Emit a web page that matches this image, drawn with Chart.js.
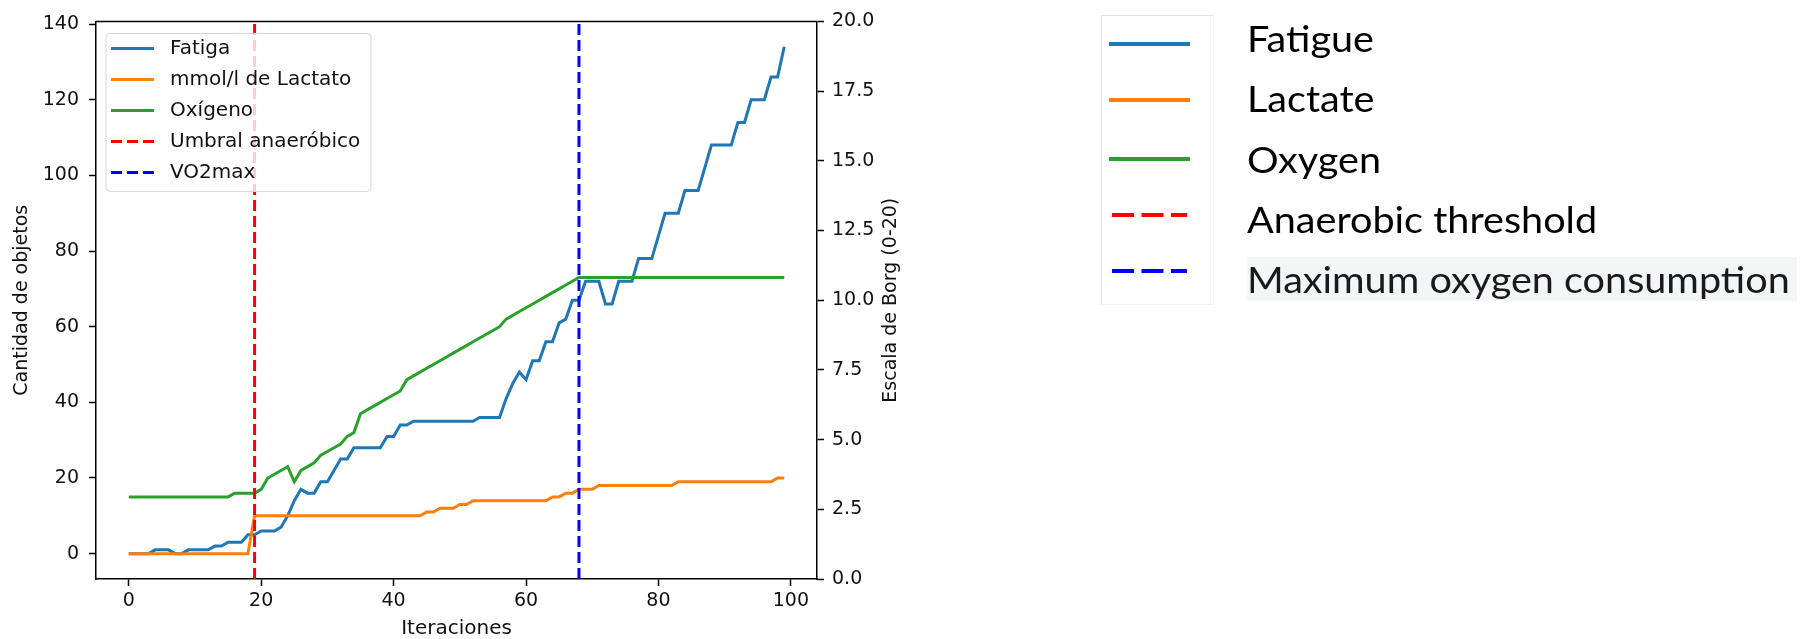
<!DOCTYPE html>
<html>
<head>
<meta charset="utf-8">
<script src="https://cdn.jsdelivr.net/npm/chart.js@4.4.1/dist/chart.umd.min.js"></script>
<style>
  html, body { margin: 0; padding: 0; background: #fff; }
  #wrap { position: relative; width: 1806px; height: 639px; overflow: hidden; }
  #chart { position: absolute; left: 0; top: 0; }
  #legend-en { position: absolute; left: 0; top: 0; width: 1806px; height: 639px; pointer-events: none; }
  #legend-en .box { position: absolute; left: 1101px; top: 15px; width: 113px; height: 290px; box-sizing: border-box;
    border: 1px solid #e4e4e4; border-right-color: #f3f3f3; border-bottom-color: #f3f3f3; }
  #legend-en svg { position: absolute; left: 1109px; }
  #legend-en span { position: absolute; left: 1247px; white-space: nowrap; transform: scaleX(1.07); transform-origin: 0 0;
    font-family: Lato, "Open Sans", sans-serif; font-size: 37px; color: #000; line-height: 44px; }
  #legend-en span.shaded { background: #f4f5f7; padding-right: 7px; color: #1a1a1a; }
</style>
</head>
<body>
<div id="wrap">
  <canvas id="chart" width="1806" height="639"></canvas>
  <div id="legend-en"><div class="box"></div></div>
</div>
<script>
// x: iteration index
const iterations = Array.from({ length: 100 }, (_, i) => i);

const fatigue = [
  0, 0, 0, 0, 1, 1, 1, 0, 0, 1,
  1, 1, 1, 2, 2, 3, 3, 3, 5, 5,
  6, 6, 6, 7, 10, 14, 17, 16, 16, 19,
  19, 22, 25, 25, 28, 28, 28, 28, 28, 31,
  31, 34, 34, 35, 35, 35, 35, 35, 35, 35,
  35, 35, 35, 36, 36, 36, 36, 41, 45, 48,
  46, 51, 51, 56, 56, 61, 62, 67, 67, 72,
  72, 72, 66, 66, 72, 72, 72, 78, 78, 78,
  84, 90, 90, 90, 96, 96, 96, 102, 108, 108,
  108, 108, 114, 114, 120, 120, 120, 126, 126, 134
];

const lactate = [
  0, 0, 0, 0, 0, 0, 0, 0, 0, 0,
  0, 0, 0, 0, 0, 0, 0, 0, 0, 10,
  10, 10, 10, 10, 10, 10, 10, 10, 10, 10,
  10, 10, 10, 10, 10, 10, 10, 10, 10, 10,
  10, 10, 10, 10, 10, 11, 11, 12, 12, 12,
  13, 13, 14, 14, 14, 14, 14, 14, 14, 14,
  14, 14, 14, 14, 15, 15, 16, 16, 17, 17,
  17, 18, 18, 18, 18, 18, 18, 18, 18, 18,
  18, 18, 18, 19, 19, 19, 19, 19, 19, 19,
  19, 19, 19, 19, 19, 19, 19, 19, 20, 20
];

const oxygen = [
  15, 15, 15, 15, 15, 15, 15, 15, 15, 15,
  15, 15, 15, 15, 15, 15, 16, 16, 16, 16,
  17, 20, 21, 22, 23, 19, 22, 23, 24, 26,
  27, 28, 29, 31, 32, 37, 38, 39, 40, 41,
  42, 43, 46, 47, 48, 49, 50, 51, 52, 53,
  54, 55, 56, 57, 58, 59, 60, 62, 63, 64,
  65, 66, 67, 68, 69, 70, 71, 72, 73, 73,
  73, 73, 73, 73, 73, 73, 73, 73, 73, 73,
  73, 73, 73, 73, 73, 73, 73, 73, 73, 73,
  73, 73, 73, 73, 73, 73, 73, 73, 73, 73
];

const anaerobicThreshold = 19;
const vo2max = 68;

const xTicks = [0, 20, 40, 60, 80, 100];
const leftTicks = [0, 20, 40, 60, 80, 100, 120, 140];
const rightTicks = [0, 2.5, 5, 7.5, 10, 12.5, 15, 17.5, 20];

const seriesLabels = ["Fatiga", "mmol/l de Lactato", "Oxígeno", "Umbral anaeróbico", "VO2max"];
const englishLabels = ["Fatigue", "Lactate", "Oxygen", "Anaerobic threshold", "Maximum oxygen consumption"];

const X_MIN = -4.95, X_MAX = 103.95;
const Y_MIN = -6.7, Y_MAX = 140.7;

const COLORS = {
  fatigue: "#1f77b4",
  lactate: "#ff7f0e",
  oxygen: "#2ca02c",
  threshold: "#ff0000",
  vo2: "#0000ff",
  text: "#111"
};
const lineColors = [COLORS.fatigue, COLORS.lactate, COLORS.oxygen, COLORS.threshold, COLORS.vo2];
const DASH = [11, 5];
const FONT = '"DejaVu Sans", sans-serif';

Chart.defaults.font.family = FONT;
Chart.defaults.font.size = 19;
Chart.defaults.color = COLORS.text;

function vline(x) {
  return [{ x, y: Y_MIN }, { x, y: Y_MAX }];
}

// top spine, rotated right title and the boxed legend inside the plot
const extras = {
  id: "extras",
  afterDraw(chart) {
    const { ctx, chartArea: a } = chart;
    ctx.save();
    ctx.strokeStyle = "#000";
    ctx.lineWidth = 1.5;
    ctx.beginPath();
    ctx.moveTo(a.left, a.top);
    ctx.lineTo(a.right, a.top);
    ctx.stroke();

    const r = chart.scales.y1;
    ctx.fillStyle = COLORS.text;
    ctx.font = "19px " + FONT;
    ctx.textAlign = "center";
    ctx.textBaseline = "middle";
    ctx.translate(r.left + 74, (a.top + a.bottom) / 2);
    ctx.rotate(-Math.PI / 2);
    ctx.fillText("Escala de Borg (0-20)", 0, 0);
    ctx.restore();

    ctx.save();
    const bx = a.left + 10, by = a.top + 12, bw = 265, bh = 158;
    ctx.beginPath();
    ctx.roundRect(bx, by, bw, bh, 4);
    ctx.fillStyle = "rgba(255,255,255,0.8)";
    ctx.fill();
    ctx.strokeStyle = "#d6d6d6";
    ctx.lineWidth = 1;
    ctx.stroke();
    ctx.font = "20px " + FONT;
    ctx.textAlign = "left";
    ctx.textBaseline = "middle";
    chart.data.datasets.forEach((ds, k) => {
      const y = by + 15 + k * 31;
      ctx.strokeStyle = ds.borderColor;
      ctx.lineWidth = ds.borderWidth;
      ctx.setLineDash(ds.borderDash || []);
      ctx.beginPath();
      ctx.moveTo(bx + 5, y);
      ctx.lineTo(bx + 48, y);
      ctx.stroke();
      ctx.setLineDash([]);
      ctx.fillStyle = COLORS.text;
      ctx.fillText(ds.label, bx + 64, y);
    });
    ctx.restore();
  }
};

const axisCommon = {
  grid: { drawOnChartArea: false, drawTicks: true, tickLength: 7, tickColor: "#000", tickWidth: 1.5 },
  border: { color: "#000", width: 1.5 }
};

new Chart(document.getElementById("chart"), {
  type: "line",
  data: {
    labels: iterations,
    datasets: [
      { label: seriesLabels[0], data: fatigue, borderColor: COLORS.fatigue, borderWidth: 3, order: 5 },
      { label: seriesLabels[1], data: lactate, borderColor: COLORS.lactate, borderWidth: 3, order: 4 },
      { label: seriesLabels[2], data: oxygen, borderColor: COLORS.oxygen, borderWidth: 3, order: 3 },
      { label: seriesLabels[3], data: vline(anaerobicThreshold), borderColor: COLORS.threshold, borderWidth: 3, borderDash: DASH, order: 2 },
      { label: seriesLabels[4], data: vline(vo2max), borderColor: COLORS.vo2, borderWidth: 3, borderDash: DASH, order: 1 }
    ]
  },
  options: {
    animation: false,
    responsive: false,
    devicePixelRatio: 1,
    layout: { padding: { left: 0, top: 17, right: 889, bottom: 0 } },
    elements: { point: { radius: 0 }, line: { tension: 0, fill: false } },
    scales: {
      x: {
        ...axisCommon,
        type: "linear",
        min: X_MIN,
        max: X_MAX,
        afterBuildTicks: s => { s.ticks = xTicks.map(v => ({ value: v })); },
        afterFit: s => { s.height = 60; },
        ticks: { padding: 4, maxRotation: 0, callback: v => String(v) },
        title: { display: true, text: "Iteraciones", padding: 0, font: { size: 20, lineHeight: 1 } }
      },
      y: {
        ...axisCommon,
        position: "left",
        min: Y_MIN,
        max: Y_MAX,
        afterBuildTicks: s => { s.ticks = leftTicks.map(v => ({ value: v })); },
        afterFit: s => { s.width = 96; },
        ticks: { padding: 10, callback: v => String(v) },
        title: { display: true, text: "Cantidad de objetos", padding: { top: 13, bottom: 0 }, font: { size: 19, lineHeight: 1 } }
      },
      y1: {
        ...axisCommon,
        position: "right",
        min: 0,
        max: 20,
        afterBuildTicks: s => { s.ticks = rightTicks.map(v => ({ value: v })); },
        afterFit: s => { s.width = 100; },
        ticks: { padding: 8, callback: v => v.toFixed(1) }
      }
    },
    plugins: { legend: { display: false }, tooltip: { enabled: false } }
  },
  plugins: [extras]
});

// English legend at the right
const legendEn = document.getElementById("legend-en");
const SVG_NS = "http://www.w3.org/2000/svg";
englishLabels.forEach((label, k) => {
  const lineY = [44, 100, 159, 215, 271][k];
  const baseline = 52 + k * 60.4;
  const dashed = k >= 3;
  const svg = document.createElementNS(SVG_NS, "svg");
  svg.setAttribute("width", "82");
  svg.setAttribute("height", "8");
  svg.style.top = (lineY - 4) + "px";
  const ln = document.createElementNS(SVG_NS, "line");
  ln.setAttribute("x1", dashed ? "3" : "0");
  ln.setAttribute("x2", dashed ? "78" : "81");
  ln.setAttribute("y1", "4");
  ln.setAttribute("y2", "4");
  ln.setAttribute("stroke", lineColors[k]);
  ln.setAttribute("stroke-width", "4");
  if (dashed) ln.setAttribute("stroke-dasharray", "22 7.5");
  svg.appendChild(ln);
  legendEn.appendChild(svg);

  const span = document.createElement("span");
  span.textContent = label;
  if (k === 4) span.className = "shaded";
  span.style.top = (baseline - 36.3) + "px";
  legendEn.appendChild(span);
});
</script>
</body>
</html>
